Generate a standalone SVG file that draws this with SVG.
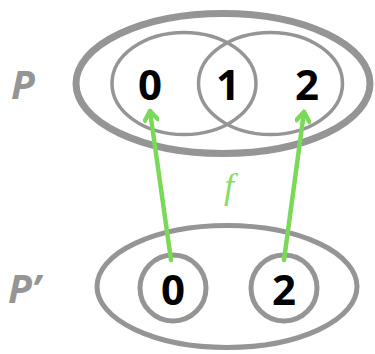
<svg xmlns="http://www.w3.org/2000/svg" width="375" height="354" viewBox="0 0 375 354">
<style>
.g{fill:none;stroke:#959595}
.num{font-family:"Open Sans",sans-serif;font-weight:bold;font-size:42px;fill:#000;text-anchor:middle}
.lbl{font-family:"Open Sans",sans-serif;font-weight:bold;font-style:italic;font-size:39px;fill:#959595}
.arr{stroke:#7ad957;stroke-width:4.5;stroke-linecap:round;fill:none}
</style>
<defs>
<marker id="ah" markerWidth="16" markerHeight="16" refX="0" refY="0" viewBox="-12 -8 16 16" orient="auto" markerUnits="userSpaceOnUse">
<path d="M-9,-6.5 L0,0 L-9,6.5" fill="none" stroke="#7ad957" stroke-width="4.5" stroke-linecap="round" stroke-linejoin="round"/>
</marker>
</defs>
<g id="P">
<ellipse class="g" cx="223" cy="83.5" rx="147" ry="70" stroke-width="7"/>
<ellipse class="g" cx="184" cy="83.5" rx="72" ry="51" stroke-width="3.5"/>
<ellipse class="g" cx="270.5" cy="83.5" rx="72" ry="51" stroke-width="3.5"/>
<text class="lbl" x="11" y="99">P</text>
<text class="num" x="150" y="100">0</text>
<text class="num" x="228" y="100">1</text>
<text class="num" x="307" y="100">2</text>
</g>
<g id="Pprime">
<ellipse class="g" cx="227" cy="286.5" rx="130" ry="61" stroke-width="5"/>
<circle class="g" cx="173" cy="288" r="33" stroke-width="5"/>
<circle class="g" cx="284" cy="288" r="33" stroke-width="5"/>
<text class="lbl" x="8" y="303">P’</text>
<text class="num" x="173" y="305">0</text>
<text class="num" x="284" y="305">2</text>
</g>
<g id="connectors">
<line class="arr" x1="171" y1="260" x2="150" y2="111" marker-end="url(#ah)"/>
<line class="arr" x1="284" y1="260" x2="304" y2="112" marker-end="url(#ah)"/>
<text x="229" y="198" font-family="Liberation Serif,serif" font-style="italic" font-size="36" fill="#88dd66" text-anchor="middle">f</text>
</g>
</svg>
